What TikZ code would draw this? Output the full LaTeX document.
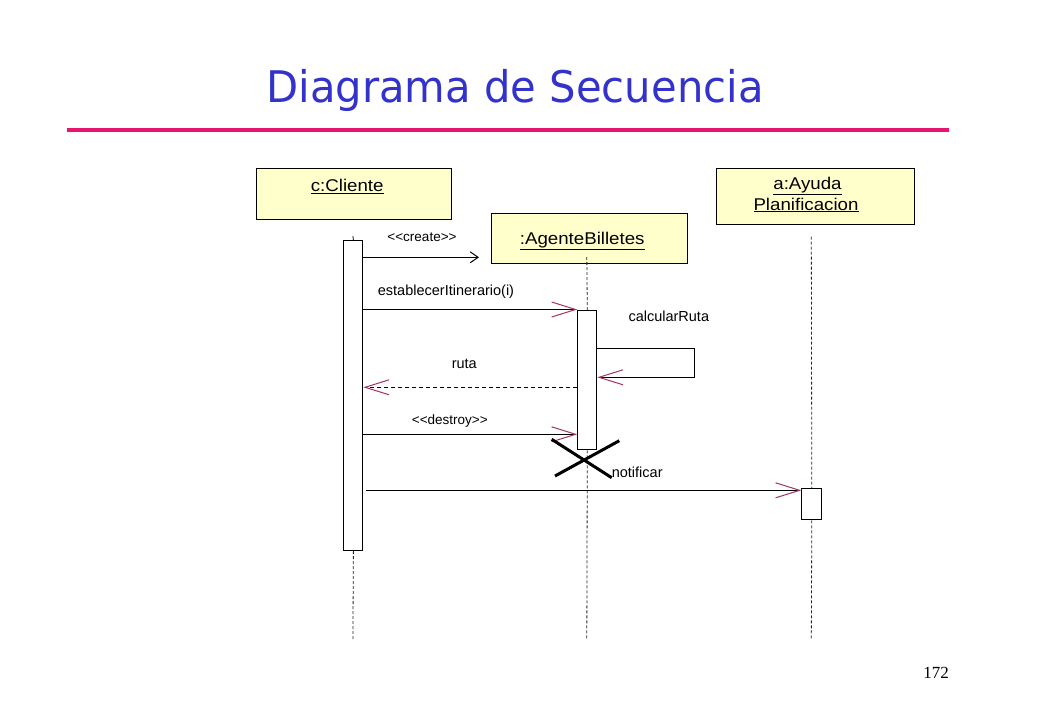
\documentclass[tikz,border=0pt]{standalone}
\usepackage{fontspec}
\usepackage{graphicx}
\setmainfont{Liberation Sans}
\newfontfamily\titlefont{DejaVu Sans}
\newfontfamily\numfont{Liberation Serif}
\usetikzlibrary{arrows.meta}
\definecolor{titleblue}{HTML}{3333CC}
\definecolor{rulepink}{HTML}{E8156E}
\definecolor{tipc}{HTML}{A03366}
\definecolor{boxfill}{HTML}{FFFFCC}
\begin{document}
\begin{tikzpicture}[x=1pt,y=-1pt,
  obj/.style={draw, line width=1pt, fill=boxfill, anchor=north west, inner sep=0pt},
  act/.style={draw, line width=1pt, fill=white, anchor=north west, inner sep=0pt},
  life/.style={line width=0.8pt, draw=black!85, dash pattern=on 3pt off 2pt},
  msg/.style={line width=1pt, -{Straight Barb[length=24pt,width=15pt,line width=1pt,color=tipc]}},
  ret/.style={msg, dash pattern=on 4pt off 3pt},
  crt/.style={line width=1pt, -{Straight Barb[length=8pt,width=11pt,line width=1pt]}},
  lbl/.style={font=\fontsize{14.5}{16}\selectfont, inner sep=0pt, anchor=base},
  olbl/.style={font=\fontsize{17}{19}\selectfont, inner sep=0pt, anchor=base}
]
\useasboundingbox[fill=white] (0,0) rectangle (1040,720);

% title and rule
\node[font=\titlefont\fontsize{43.6}{48}\selectfont, text=titleblue, inner sep=0pt, anchor=base] (title) at (515,102) {\scalebox{0.957}[1]{Diagrama de Secuencia}};
\coordinate (rl) at (67,130);
\coordinate (rr) at (949,130);
\draw[rulepink, line width=4.5pt] (rl) -- (rr);

% object boxes
\node[obj, minimum width=195pt, minimum height=51pt] (cli) at (255.5,168.3) {};
\node[obj, minimum width=195.5pt, minimum height=50pt] (age) at (491,212.7) {};
\node[obj, minimum width=198.5pt, minimum height=56pt] (ayu) at (715.7,168.3) {};
\node[olbl] (clit) at (347.2,191.5) {\scalebox{1.1}[1]{\underline{c:Cliente}}};
\node[olbl] (aget) at (582.2,244) {\scalebox{1.1}[1]{\underline{:AgenteBilletes}}};
\node[olbl] (ayut1) at (807.5,189.5) {\scalebox{1.1}[1]{\underline{a:Ayuda}}};
\node[olbl] (ayut2) at (806,210) {\scalebox{1.1}[1]{\underline{Planificacion}}};

% activations
\node[act, minimum width=19pt, minimum height=310pt] (acli) at (343.4,240) {};
\node[act, minimum width=19pt, minimum height=139.3pt] (aage) at (577.3,310) {};
\node[act, minimum width=20pt, minimum height=31pt] (aayu) at (801.3,488.3) {};

% lifelines
\coordinate (cliTop) at (352.9,236);
\coordinate (cliEnd) at (352.9,640);
\coordinate (ageTop) at (586.8,257);
\coordinate (ageEnd) at (586.8,640);
\coordinate (ayuTop) at (811.3,236.5);
\coordinate (ayuEnd) at (811.3,640);
\draw[line width=0.8pt] (cliTop) -- (acli.north);
\draw[life] (acli.south) -- (cliEnd);
\draw[life] (ageTop) -- (aage.north);
\draw[life] (aage.south) -- (ageEnd);
\draw[life] (ayuTop) -- (aayu.north);
\draw[life] (aayu.south) -- (ayuEnd);

% messages
\coordinate (crEnd) at (479,257.3);
\draw[crt] (acli.east |- crEnd) -- (crEnd);
\node[lbl] (crl) at (422,241) {\fontsize{13.5}{15}\selectfont <{}<create>{}>};

\coordinate (m2) at (0,309.5);
\draw[msg] (acli.east |- m2) -- (aage.west |- m2);
\node[lbl, anchor=base west] (estl) at (377.7,295) {establecerItinerario(i)};

\coordinate (sA) at (694.3,348.3);
\coordinate (sB) at (694.3,377.3);
\draw[msg] (aage.east |- sA) -- (sA) -- (sB) -- (aage.east |- sB);
\node[lbl] (calcl) at (668.8,321.7) {calcularRuta};

\coordinate (m4) at (0,387.3);
\draw[ret] (aage.west |- m4) -- (acli.east |- m4);
\node[lbl] (rutal) at (464.3,368.3) {ruta};

\coordinate (m5) at (0,434.3);
\draw[msg] (acli.east |- m5) -- (aage.west |- m5);
\node[lbl] (desl) at (449.8,424) {\fontsize{13.5}{15}\selectfont <{}<destroy>{}>};

% destruction mark
\coordinate (x1) at (551.7,439.3);
\coordinate (x2) at (611.7,477.7);
\coordinate (x3) at (555,476);
\coordinate (x4) at (619.3,440.7);
\draw[line width=3pt] (x1) -- (x2);
\draw[line width=3pt] (x3) -- (x4);

\coordinate (m6) at (366,490.3);
\draw[msg] (m6) -- (aayu.west |- m6);
\node[lbl] (notl) at (637.2,477.7) {notificar};

% page number
\node[font=\numfont\fontsize{17}{19}\selectfont, inner sep=0pt, anchor=base] (pg) at (936,678) {172};
\end{tikzpicture}
\end{document}
